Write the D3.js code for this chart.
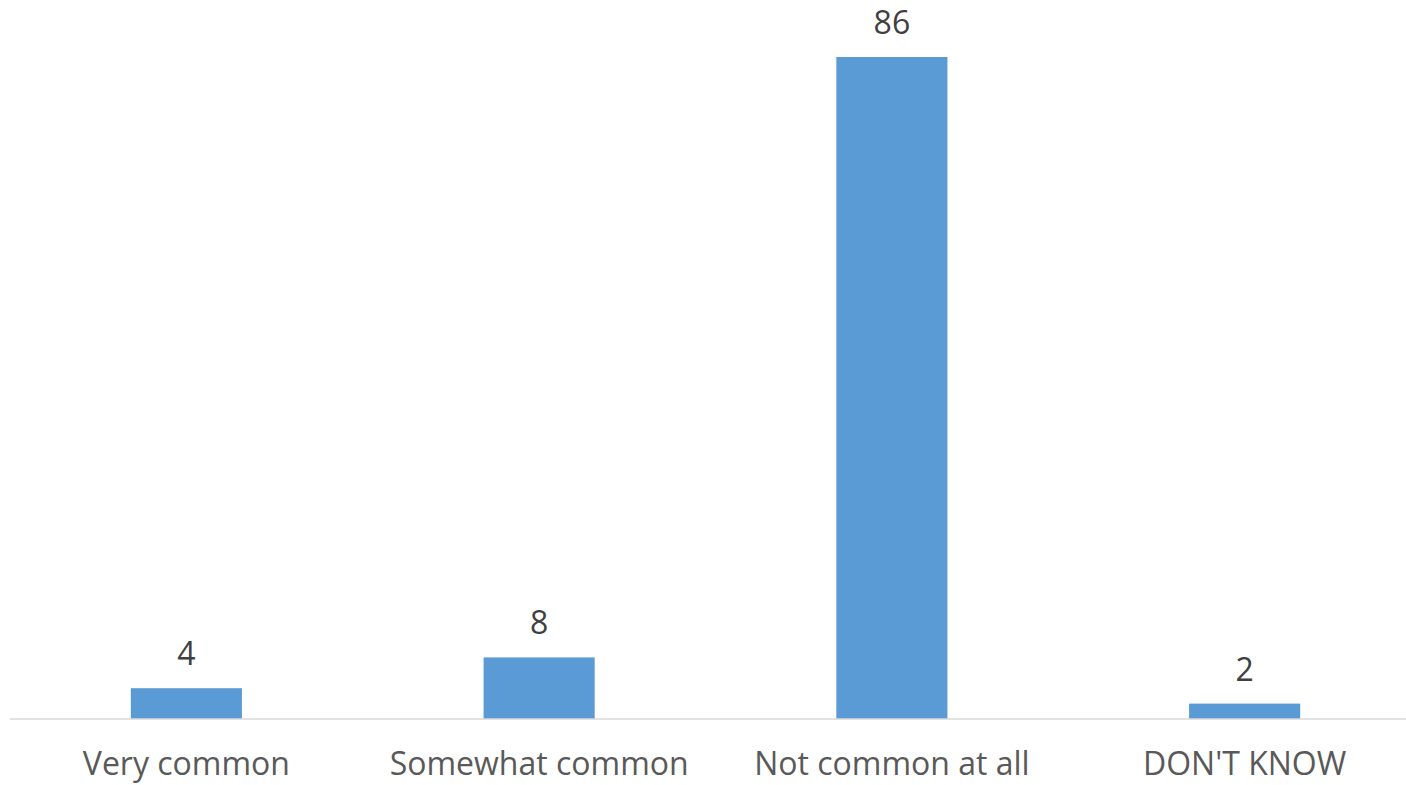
<!DOCTYPE html>
<html>
<head>
<meta charset="utf-8">
<script src="https://cdn.jsdelivr.net/npm/d3@7"></script>
<style>
  html, body { margin: 0; padding: 0; background: #ffffff; }
  svg { display: block; }
</style>
</head>
<body>
<svg id="chart" width="1406" height="785"></svg>
<script>
// Survey responses (percent)
const categories = ["Very common", "Somewhat common", "Not common at all", "DON'T KNOW"];
const values = [4, 8, 86, 2];

const W = 1406, H = 785;
const svg = d3.select("#chart");

const x = d3.scaleBand()
  .domain(categories)
  .range([10, 1421])
  .paddingInner(0.685)
  .paddingOuter(0.3425);

const y = d3.scaleLinear()
  .domain([0, 86])
  .range([719, 57]);

const fontFam = "'Open Sans', 'Liberation Sans', sans-serif";
const fontSize = 32;

// bars
svg.append("g")
  .selectAll("rect")
  .data(values)
  .join("rect")
  .attr("x", (d, i) => x(categories[i]))
  .attr("y", d => y(d))
  .attr("width", x.bandwidth())
  .attr("height", d => y(0) - y(d))
  .attr("fill", "#5b9bd5");

// baseline axis with category labels
const xAxis = d3.axisBottom(x).tickSize(0);
const gx = svg.append("g")
  .attr("transform", `translate(0,${y(0)})`)
  .call(xAxis);
gx.select(".domain")
  .attr("d", `M10,0H${W}`)
  .attr("stroke", "#d9d9d9")
  .attr("stroke-width", 1.5);
gx.selectAll(".tick text")
  .attr("font-family", fontFam)
  .attr("font-size", fontSize)
  .attr("fill", "#595959")
  .attr("dy", 0)
  .attr("y", 56);

// value labels
svg.append("g")
  .selectAll("text")
  .data(values)
  .join("text")
  .attr("x", (d, i) => x(categories[i]) + x.bandwidth() / 2)
  .attr("y", d => y(d) - 23)
  .attr("text-anchor", "middle")
  .attr("font-family", fontFam)
  .attr("font-size", fontSize)
  .attr("fill", "#404040")
  .text(d => d);
</script>
</body>
</html>
